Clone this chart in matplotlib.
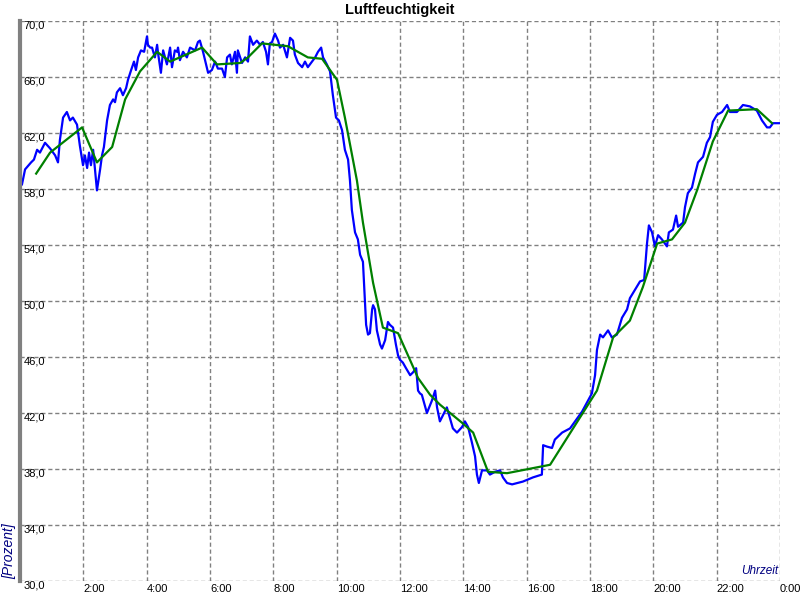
import matplotlib
matplotlib.use('Agg')
import matplotlib.pyplot as plt

# Messwerte (Uhrzeit in Stunden, Luftfeuchtigkeit in %)
blau_t = [0.00, 0.06, 0.16, 0.35, 0.44, 0.54, 0.63, 0.79, 0.95, 1.11, 1.20, 1.26, 1.36, 1.48,
          1.58, 1.67, 1.80, 1.89, 1.99, 2.05, 2.12, 2.18, 2.24, 2.31, 2.40, 2.43, 2.53, 2.59,
          2.65, 2.75, 2.84, 2.94, 3.00, 3.06, 3.16, 3.25, 3.35, 3.41, 3.51, 3.60, 3.66, 3.73,
          3.82, 3.92, 4.01, 4.04, 4.11, 4.17, 4.26, 4.33, 4.36, 4.45, 4.52, 4.58, 4.64, 4.74,
          4.80, 4.89, 4.96, 4.99, 5.05, 5.15, 5.27, 5.37, 5.53, 5.62, 5.68, 5.78, 5.91, 5.94,
          6.06, 6.16, 6.25, 6.38, 6.47, 6.54, 6.63, 6.69, 6.79, 6.85, 6.88, 7.01, 7.11, 7.20,
          7.26, 7.36, 7.48, 7.58, 7.67, 7.77, 7.83, 7.89, 7.96, 8.05, 8.15, 8.21, 8.31, 8.43,
          8.53, 8.62, 8.68, 8.78, 8.91, 9.00, 9.09, 9.22, 9.32, 9.41, 9.51, 9.57, 9.69, 9.79,
          9.88, 9.98, 10.07, 10.17, 10.26, 10.36, 10.42, 10.48, 10.58, 10.67, 10.74, 10.83,
          10.89, 10.93, 10.99, 11.05, 11.12, 11.15, 11.21, 11.27, 11.37, 11.43, 11.53, 11.62,
          11.68, 11.78, 11.87, 11.94, 12.00, 12.09, 12.19, 12.32, 12.41, 12.51, 12.57, 12.63,
          12.69, 12.85, 13.01, 13.11, 13.17, 13.26, 13.48, 13.58, 13.67, 13.80, 13.96, 14.05,
          14.15, 14.27, 14.37, 14.43, 14.49, 14.59, 14.75, 14.84, 15.00, 15.16, 15.25, 15.38,
          15.54, 15.88, 16.20, 16.48, 16.52, 16.64, 16.80, 16.89, 17.12, 17.37, 17.75, 18.06,
          18.16, 18.22, 18.32, 18.41, 18.57, 18.69, 18.85, 19.01, 19.17, 19.26, 19.42, 19.58,
          19.71, 19.74, 19.80, 19.86, 19.96, 20.05, 20.15, 20.27, 20.43, 20.49, 20.62, 20.72,
          20.78, 20.94, 21.00, 21.09, 21.22, 21.32, 21.41, 21.57, 21.69, 21.79, 21.88, 22.01,
          22.17, 22.33, 22.42, 22.64, 22.83, 23.05, 23.27, 23.43, 23.59, 23.68, 23.78, 24.00]
blau_v = [58.6, 58.3, 59.4, 59.9, 60.1, 60.8, 60.6, 61.3, 60.9, 60.4, 59.9, 61.5, 63.1, 63.5,
          62.9, 63.1, 62.6, 61.1, 59.7, 60.4, 59.5, 60.6, 59.7, 60.8, 58.6, 57.9, 59.4, 60.4,
          61.0, 62.9, 64.0, 64.4, 64.2, 64.9, 65.2, 64.7, 65.2, 65.8, 66.5, 67.1, 66.5, 67.4,
          67.9, 67.8, 68.9, 68.3, 68.1, 68.1, 67.4, 68.3, 67.7, 66.3, 67.9, 67.4, 66.9, 68.1,
          66.7, 67.9, 67.8, 68.1, 67.2, 67.8, 67.4, 68.1, 67.9, 68.5, 68.6, 67.8, 66.6, 66.3,
          66.5, 67.1, 66.6, 66.6, 66.0, 67.4, 67.6, 66.9, 67.8, 66.3, 67.9, 67.0, 67.4, 67.1,
          68.9, 68.3, 68.6, 68.3, 68.5, 67.8, 66.9, 68.4, 68.5, 69.1, 68.6, 68.1, 68.3, 67.4,
          68.8, 68.6, 67.6, 67.0, 66.7, 67.1, 66.7, 67.1, 67.4, 67.8, 68.1, 67.4, 66.9, 66.4,
          64.7, 63.1, 62.9, 62.2, 60.8, 60.1, 58.6, 56.5, 54.9, 54.4, 53.3, 52.8,
          50.1, 48.3, 47.6, 47.7, 49.4, 49.7, 49.4, 47.9, 46.9, 46.6, 47.2, 48.5,
          48.3, 48.1, 46.9, 46.1, 45.8, 45.6, 45.2, 44.7, 44.9, 45.2, 43.6, 43.4,
          43.3, 42.0, 42.9, 43.6, 42.4, 41.4, 42.4, 41.6, 40.9, 40.6, 41.0, 41.4,
          41.0, 39.9, 38.9, 37.6, 37.0, 37.9, 37.9, 37.6, 37.8, 37.9, 37.4, 37.0,
          36.9, 37.1, 37.4, 37.6, 39.7, 39.6, 39.5, 40.1, 40.6, 40.9, 42.1, 43.4,
          44.7, 46.5, 47.6, 47.4, 47.9, 47.4, 47.6, 48.8, 49.4, 50.2, 50.8, 51.4,
          51.5, 52.4, 54.1, 55.4, 54.9, 53.9, 54.7, 54.4, 53.9, 54.9, 55.1, 56.1,
          55.3, 55.6, 56.7, 57.7, 58.1, 59.1, 59.9, 60.3, 61.3, 61.7, 62.8, 63.3,
          63.5, 64.0, 63.5, 63.5, 64.0, 63.9, 63.6, 62.9, 62.4, 62.4, 62.7, 62.7]

# geglaettete Werte
gruen_t = [0.51, 0.95, 1.96, 2.43, 2.91, 3.32, 3.79, 4.33, 4.74, 5.75, 6.22, 6.95, 7.20, 7.64,
           8.46, 9.09, 9.54, 10.01, 10.26, 10.64, 10.83, 11.15, 11.46, 11.94, 12.57, 12.95,
           13.26, 13.96, 14.31, 14.78, 15.38, 16.74, 18.22, 18.73, 19.26, 19.67, 20.12, 20.59,
           21.00, 21.38, 21.88, 22.36, 23.27, 23.75]
gruen_v = [59.1, 60.6, 62.4, 59.9, 61.0, 64.4, 66.4, 67.8, 67.1, 68.1, 66.9, 67.0, 67.4, 68.4,
           68.2, 67.4, 67.3, 65.8, 63.1, 58.6, 55.6, 51.3, 48.1, 47.7, 44.5, 43.3,
           42.6, 41.3, 40.6, 37.8, 37.7, 38.3, 43.6, 47.4, 48.6, 51.0, 54.1, 54.4,
           55.6, 57.9, 61.4, 63.6, 63.7, 62.7]

x_ticks = list(range(0, 25, 2))
x_labels = [''] + ['%d:00' % h for h in range(2, 24, 2)] + ['0:00']
y_ticks = list(range(30, 71, 4))
y_labels = ['%d,0' % v for v in y_ticks]

plt.rcParams['font.family'] = ['Liberation Sans', 'DejaVu Sans']

fig = plt.figure(figsize=(8, 6), dpi=100)
ax = fig.add_axes([0.025, 0.0317, 0.95, 0.9333])

ax.plot(blau_t, blau_v, color='#0000FF', lw=1.6, zorder=3)
ax.plot(gruen_t, gruen_v, color='#008000', lw=1.6, zorder=4)

ax.set_xlim(0, 24)
ax.set_ylim(30, 70)
ax.set_xticks(x_ticks)
ax.set_xticklabels(x_labels)
ax.set_yticks(y_ticks)
ax.set_yticklabels(y_labels)

ax.grid(True, color='#808080', linestyle=(0, (3, 2)), lw=1)
for s in ['top', 'right', 'bottom']:
    ax.spines[s].set_visible(False)
ax.spines['left'].set_color('#808080')
ax.spines['left'].set_linewidth(3)
ax.spines['left'].set_zorder(5)

ax.tick_params(axis='both', length=0, labelsize=8)
ax.tick_params(axis='y', pad=-2.5)
ax.tick_params(axis='x', pad=2)
for lbl in ax.get_yticklabels():
    lbl.set_horizontalalignment('left')
    lbl.set_verticalalignment('top')
for lbl in ax.get_xticklabels():
    lbl.set_horizontalalignment('left')

fig.text(0.5, 0.983, 'Luftfeuchtigkeit', ha='center', va='center',
         fontsize=10.5, fontweight='bold')
fig.text(0.011, 0.035, '[Prozent]', rotation=90, ha='center', va='bottom',
         fontsize=10, style='italic', color='#000080')
ax.text(0.998, 0.008, 'Uhrzeit', transform=ax.transAxes, ha='right', va='bottom',
        fontsize=8.5, style='italic', color='#000080')

fig.savefig('out.png', dpi=100)
